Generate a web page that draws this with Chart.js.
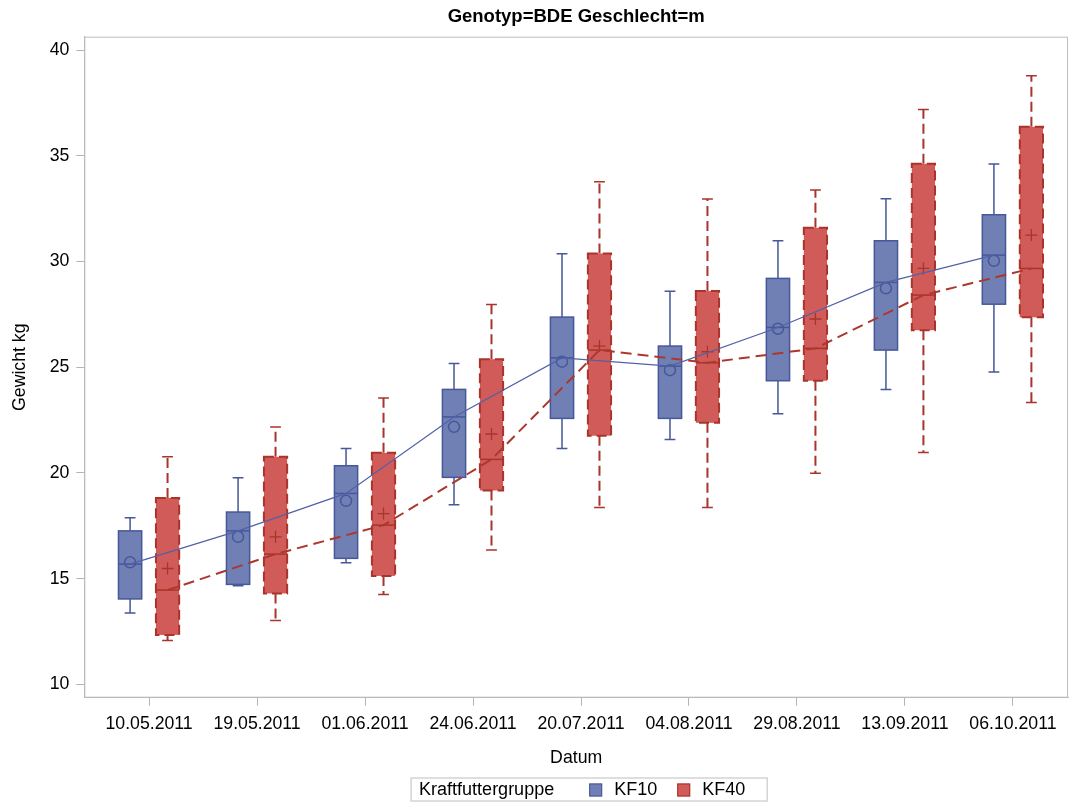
<!DOCTYPE html>
<html>
<head>
<meta charset="utf-8">
<script src="https://cdn.jsdelivr.net/npm/chart.js@4.4.1/dist/chart.umd.min.js"></script>
<style>
    body { margin: 0; background: #fff; }
    canvas { display: block; }
</style>
</head>
<body>
<canvas id="chart" width="1070" height="803"></canvas>
<script>
/*
 *  Data
 */

const dates = ['10.05.2011', '19.05.2011', '01.06.2011', '24.06.2011', '20.07.2011',
               '04.08.2011', '29.08.2011', '13.09.2011', '06.10.2011'];
const yTicks = [10, 15, 20, 25, 30, 35, 40];
const groupNames = ['KF10', 'KF40'];
const legendTitle = 'Kraftfuttergruppe';

const kf10Min    = [13.37, 14.66, 15.75, 18.49, 21.16, 21.58, 22.80, 23.95, 24.77];
const kf10Q1     = [14.04, 14.73, 15.96, 19.79, 22.58, 22.58, 24.36, 25.81, 27.98];
const kf10Median = [15.69, 17.26, 19.03, 22.65, 25.44, 25.05, 26.88, 29.01, 30.30];
const kf10Mean   = [15.77, 16.98, 18.68, 22.18, 25.26, 24.86, 26.82, 28.73, 30.03];
const kf10Q3     = [17.26, 18.15, 20.34, 23.95, 27.37, 26.00, 29.20, 30.98, 32.21];
const kf10Max    = [17.88, 19.77, 21.16, 25.18, 30.36, 28.59, 30.98, 32.97, 34.61];

const kf40Min    = [12.08, 13.02, 14.25, 16.36, 18.37, 18.37, 19.98, 20.97, 23.33];
const kf40Q1     = [12.34, 14.30, 15.13, 19.17, 21.76, 22.37, 24.36, 26.75, 27.36];
const kf40Median = [14.46, 16.16, 17.53, 20.64, 25.81, 25.21, 25.89, 28.41, 29.67];
const kf40Mean   = [15.48, 16.98, 18.08, 21.84, 26.00, 25.73, 27.28, 29.67, 31.25];
const kf40Q3     = [18.82, 20.76, 20.95, 25.38, 30.38, 28.60, 31.59, 34.62, 36.37];
const kf40Max    = [20.76, 22.17, 23.54, 27.97, 33.77, 32.95, 33.38, 37.19, 38.78];

/*
 *  Styles
 */

const FONT = '"Liberation Sans", Arial, sans-serif';
const BOX_W = 0.215, CAP_W = 0.1;

const groups = [
    {
        name: groupNames[0], shift: -0.176,
        min: kf10Min, q1: kf10Q1, median: kf10Median, q3: kf10Q3, max: kf10Max,
        fill: '#7080b4', edge: '#46579a', dash: [], whiskerWidth: 1.5
    },
    {
        name: groupNames[1], shift: 0.171,
        min: kf40Min, q1: kf40Q1, median: kf40Median, q3: kf40Q3, max: kf40Max,
        fill: '#d05b59', edge: '#a8342b', dash: [10, 5], whiskerWidth: 2
    }
];

/*
 *  Plugins
 */

const boxPlugin = {
    id: 'boxes',
    beforeDatasetsDraw(chart) {
        const {ctx, chartArea: a, scales: {x, y}} = chart;
        ctx.save();
        ctx.strokeStyle = '#bdbdbd';
        ctx.lineWidth = 1;
        ctx.strokeRect(a.left + 0.5, a.top + 0.5, a.width - 1, a.height - 1);

        const px = (v) => x.getPixelForValue(v);
        groups.forEach(g => {
            for (let i = 0; i < dates.length; i++) {
                const cx = px(i + g.shift);
                const half = (px(BOX_W) - px(0)) / 2;
                const cap = (px(CAP_W) - px(0)) / 2;
                const yMin = y.getPixelForValue(g.min[i]);
                const yQ1 = y.getPixelForValue(g.q1[i]);
                const yMed = y.getPixelForValue(g.median[i]);
                const yQ3 = y.getPixelForValue(g.q3[i]);
                const yMax = y.getPixelForValue(g.max[i]);

                // whiskers
                ctx.strokeStyle = g.edge;
                ctx.lineWidth = g.whiskerWidth;
                ctx.setLineDash(g.dash);
                ctx.beginPath();
                ctx.moveTo(cx, yQ1); ctx.lineTo(cx, yMin);
                ctx.moveTo(cx, yQ3); ctx.lineTo(cx, yMax);
                ctx.stroke();
                ctx.setLineDash([]);
                ctx.lineWidth = 1.5;
                ctx.beginPath();
                ctx.moveTo(cx - cap, yMin); ctx.lineTo(cx + cap, yMin);
                ctx.moveTo(cx - cap, yMax); ctx.lineTo(cx + cap, yMax);
                ctx.stroke();

                // box
                ctx.fillStyle = g.fill;
                ctx.fillRect(cx - half, yQ3, half * 2, yQ1 - yQ3);
                ctx.setLineDash(g.dash);
                ctx.lineWidth = g.whiskerWidth;
                ctx.strokeRect(cx - half, yQ3, half * 2, yQ1 - yQ3);
                ctx.setLineDash([]);

                // median
                ctx.lineWidth = 1.5;
                ctx.beginPath();
                ctx.moveTo(cx - half, yMed); ctx.lineTo(cx + half, yMed);
                ctx.stroke();
            }
        });
        ctx.restore();
    }
};

const legendPlugin = {
    id: 'groupLegend',
    afterDraw(chart) {
        const {ctx, chartArea: a} = chart;
        ctx.save();
        ctx.font = '18px ' + FONT;
        ctx.textBaseline = 'middle';
        ctx.textAlign = 'left';
        const sq = 13;
        const titleW = ctx.measureText(legendTitle).width;
        const itemW = groupNames.map(n => ctx.measureText(n).width);
        const total = 8 + titleW + 35 + sq + 12 + itemW[0] + 20 + sq + 12 + itemW[1] + 22;
        const left = (a.left + a.right) / 2 + 13 - total / 2;
        const top = 778, h = 23, mid = top + h / 2 + 0.5;

        ctx.strokeStyle = '#d4d4d4';
        ctx.lineWidth = 1.5;
        ctx.strokeRect(left, top, total, h);

        ctx.fillStyle = '#000';
        let cur = left + 8;
        ctx.fillText(legendTitle, cur, mid);
        cur += titleW + 35;
        groups.forEach((g, i) => {
            ctx.fillStyle = g.fill;
            ctx.fillRect(cur, mid - sq / 2, sq, sq);
            ctx.strokeStyle = g.edge;
            ctx.lineWidth = 1;
            ctx.strokeRect(cur + 0.5, mid - sq / 2 + 0.5, sq - 1, sq - 1);
            cur += sq + 12;
            ctx.fillStyle = '#000';
            ctx.fillText(g.name, cur, mid);
            cur += itemW[i] + 20;
        });
        ctx.restore();
    }
};

/*
 *  Chart
 */

document.addEventListener('DOMContentLoaded', () => {
    const content = document.getElementById('chart').getContext('2d');
    const pts = (arr, shift) => arr.map((v, i) => ({x: i + shift, y: v}));

    new Chart(content, {
        type: 'line',
        data: {
            datasets: [
                {
                    label: groupNames[0] + ' Median',
                    data: pts(kf10Median, groups[0].shift),
                    borderColor: '#5161a6',
                    borderWidth: 1.2,
                    pointRadius: 0,
                    fill: false
                },
                {
                    label: groupNames[1] + ' Median',
                    data: pts(kf40Median, groups[1].shift),
                    borderColor: '#ad372c',
                    borderWidth: 2,
                    borderDash: [11, 6],
                    pointRadius: 0,
                    fill: false
                },
                {
                    label: groupNames[0] + ' Mittel',
                    data: pts(kf10Mean, groups[0].shift),
                    showLine: false,
                    pointStyle: 'circle',
                    pointRadius: 5.5,
                    pointBorderWidth: 1.5,
                    pointBorderColor: '#46579a',
                    pointBackgroundColor: 'rgba(0,0,0,0)'
                },
                {
                    label: groupNames[1] + ' Mittel',
                    data: pts(kf40Mean, groups[1].shift),
                    showLine: false,
                    pointStyle: 'cross',
                    pointRadius: 6,
                    pointBorderWidth: 1.3,
                    pointBorderColor: '#a8342b'
                }
            ]
        },
        options: {
            responsive: false,
            animation: false,
            layout: { autoPadding: false, padding: { left: 0, right: 2, top: 0, bottom: 28 } },
            plugins: {
                legend: { display: false },
                tooltip: { enabled: false },
                title: {
                    display: true,
                    fullSize: false,
                    text: 'Genotyp=BDE Geschlecht=m',
                    color: '#000',
                    font: { family: FONT, size: 18.5, weight: 'bold' },
                    padding: { top: 6, bottom: 8.5 }
                }
            },
            scales: {
                x: {
                    type: 'linear',
                    min: -0.6,
                    max: 8.51,
                    afterBuildTicks: (s) => { s.ticks = dates.map((d, i) => ({value: i})); },
                    afterFit: (s) => { s.height = 77.3; s.paddingLeft = 0; s.paddingRight = 0; },
                    grid: { drawOnChartArea: false, drawTicks: true, tickLength: 8, color: '#b4b4b4' },
                    border: { display: true, color: '#b4b4b4' },
                    ticks: {
                        autoSkip: false,
                        maxRotation: 0,
                        padding: 8,
                        color: '#000',
                        font: { family: FONT, size: 17.7 },
                        callback: (v) => dates[v]
                    },
                    title: {
                        display: true,
                        text: 'Datum',
                        color: '#000',
                        font: { family: FONT, size: 17.7 },
                        padding: { top: 4, bottom: 6 }
                    }
                },
                y: {
                    min: 9.37,
                    max: 40.63,
                    afterBuildTicks: (s) => { s.ticks = yTicks.map(v => ({value: v})); },
                    afterFit: (s) => { s.width = 84.3; s.paddingTop = 0; s.paddingBottom = 0; },
                    grid: { drawOnChartArea: false, drawTicks: true, tickLength: 8, color: '#b4b4b4' },
                    border: { display: true, color: '#b4b4b4' },
                    ticks: {
                        padding: 7,
                        color: '#000',
                        font: { family: FONT, size: 17.7 }
                    },
                    title: {
                        display: true,
                        text: 'Gewicht kg',
                        color: '#000',
                        font: { family: FONT, size: 17.7 },
                        padding: { top: 9.5, bottom: 4 }
                    }
                }
            }
        },
        plugins: [boxPlugin, legendPlugin]
    });
});
</script>
</body>
</html>
